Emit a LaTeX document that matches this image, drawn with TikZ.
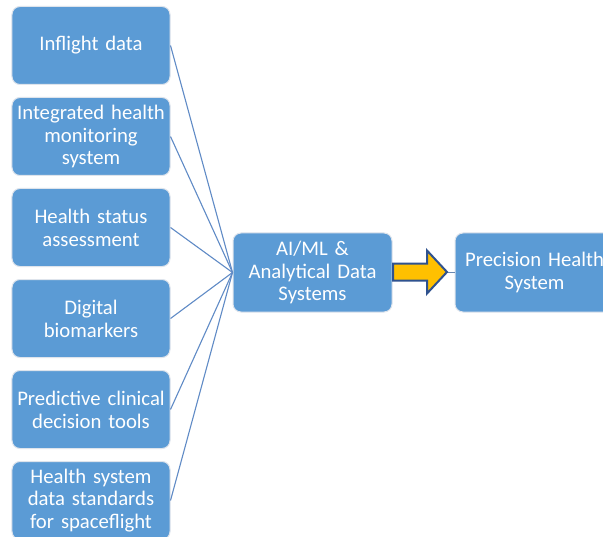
\documentclass[tikz,border=0pt]{standalone}
\usepackage{fontspec}
\setmainfont{Carlito}
\definecolor{boxblue}{RGB}{91,155,213}
\definecolor{linkblue}{RGB}{96,139,198}
\definecolor{arrowfill}{RGB}{255,192,0}
\definecolor{arrowline}{RGB}{47,82,143}
\definecolor{boxedge}{RGB}{222,228,236}
\tikzset{
  sbox/.style={rectangle, rounded corners=8bp, fill=boxblue, draw=boxedge, line width=1bp,
    minimum width=158bp, minimum height=78bp, text width=156bp, align=center,
    text=white, inner sep=1bp, font=\fontsize{20.8}{23}\selectfont},
  link/.style={draw=linkblue, line width=1.1bp},
  blockarrow/.style={fill=arrowfill, draw=arrowline, line width=2bp, line join=miter}
}
\begin{document}
\begin{tikzpicture}[x=1bp,y=-1bp]
\useasboundingbox (0,0) rectangle (603,537);
\clip (0,0) rectangle (603,537);
\fill[white] (0,0) rectangle (603,537);
\node[sbox] (a1) at (91,45.5) {\raisebox{-1.5bp}{Inflight data}};
\node[sbox] (a2) at (91,136.5) {Integrated health\\monitoring\\system};
\node[sbox] (a3) at (91,227.5) {Health status\\assessment};
\node[sbox] (a4) at (91,318.5) {Digital\\biomarkers};
\node[sbox] (a5) at (91,409.5) {Predictive clinical\\decision tools};
\node[sbox] (a6) at (91,500.5) {Health system\\data standards\\for spaceflight};
\node[sbox, minimum width=159bp, minimum height=79bp] (c) at (312.5,272.5) {AI/ML \&\\Analytical Data\\Systems};
\node[sbox, minimum width=159bp, minimum height=79bp] (p) at (534.5,272.5) {Precision Health\\System};
\foreach \i in {1,...,6} {\draw[link] (a\i.east) -- (c.west);}
\draw[draw=linkblue!70!gray, line width=0.8bp] (c.east) -- (p.west);
\draw[blockarrow] (393,263.5) -- (427,263.5) -- (427,250.5) -- (447,272) -- (427,293.5) -- (427,280.5) -- (393,280.5) -- cycle;
\end{tikzpicture}
\end{document}
